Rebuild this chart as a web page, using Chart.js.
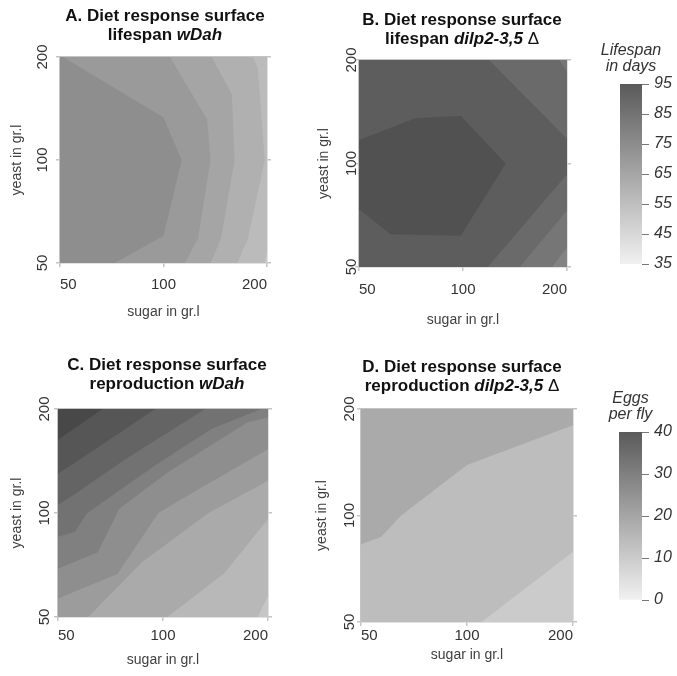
<!DOCTYPE html>
<html>
<head>
<meta charset="utf-8">
<title>Diet response surfaces</title>
<script src="https://cdn.jsdelivr.net/npm/chart.js@4.4.0/dist/chart.umd.min.js"></script>
<style>
  body { margin: 0; background: #fff; }
  #fig { position: relative; width: 677px; height: 676px; font-family: "Liberation Sans", Arial, sans-serif; }
  canvas { position: absolute; }
  .title { position: absolute; width: 300px; text-align: center; font-weight: bold; font-size: 17px;
           line-height: 19px; color: #111; white-space: nowrap; z-index: 2; }
  .title .delta { font-weight: normal; }
</style>
</head>
<body>
<div id="fig">
  <div class="title" style="left:15px; top:6px;">A. Diet response surface<br>lifespan <i>wDah</i></div>
  <div class="title" style="left:312px; top:10px;">B. Diet response surface<br>lifespan <i>dilp2-3,5</i> <span class="delta">&Delta;</span></div>
  <div class="title" style="left:17px; top:355px;">C. Diet response surface<br>reproduction <i>wDah</i></div>
  <div class="title" style="left:312px; top:357px;">D. Diet response surface<br>reproduction <i>dilp2-3,5</i> <span class="delta">&Delta;</span></div>

  <canvas id="lifeWDah" style="left:0; top:0;" width="300" height="340"></canvas>
  <canvas id="lifeDilp" style="left:300px; top:0;" width="290" height="340"></canvas>
  <canvas id="lifeBar" style="left:590px; top:30px;" width="87" height="250"></canvas>
  <canvas id="eggsWDah" style="left:0; top:340px;" width="300" height="336"></canvas>
  <canvas id="eggsDilp" style="left:300px; top:340px;" width="290" height="336"></canvas>
  <canvas id="eggsBar" style="left:590px; top:380px;" width="87" height="240"></canvas>
</div>
<script>
// diet grid (g/l), both axes on a log scale
const sugarTicks = [50, 100, 200];
const yeastTicks = [50, 100, 200];

// each surface is a stack of "value >= level" regions, [sugar, yeast] vertices,
// lowest level first (the first one covers the whole diet range)
const lifeWDahLevels = [45, 50, 55, 60, 65, 70];
const lifeWDahRegions = [
  [[50, 50], [200, 50], [200, 200], [50, 200]],
  [[50, 50], [197, 50], [200, 54.5], [200, 200], [50, 200]],
  [[50, 50], [164, 50], [176, 59], [197, 100], [188, 186], [182, 200], [50, 200]],
  [[50, 50], [137, 50], [147, 59], [161, 100], [158, 156], [138, 200], [50, 200]],
  [[50, 50], [115.5, 50], [126, 59], [137, 100], [134, 131], [104.5, 200], [50, 200]],
  [[50, 50], [72, 50], [100, 60], [113, 100], [100, 133], [51, 200], [50, 200]]
];

const lifeDilpLevels = [75, 80, 85, 90, 95];
const lifeDilpRegions = [
  [[50, 50], [200, 50], [200, 200], [50, 200]],
  [[50, 50], [181, 50], [200, 57], [200, 200], [50, 200]],
  [[50, 50], [146, 50], [200, 73], [200, 185], [190, 200], [50, 200]],
  [[50, 50], [118, 50], [200, 93], [200, 118], [119, 200], [50, 200]],
  [[50, 73.6], [61.7, 62.3], [98.5, 61.6], [133, 100], [98.5, 137.5], [72.8, 135.3], [50, 117]]
];

const eggsWDahLevels = [0, 5, 10, 15, 20, 25, 30, 35, 40, 45];
const eggsWDahRegions = [
  [[50, 50], [200, 50], [200, 200], [50, 200]],
  [[50, 50], [187, 50], [200, 57.7], [200, 200], [50, 200]],
  [[50, 50], [103, 50], [150, 67], [200, 96], [200, 200], [50, 200]],
  [[50, 50], [61, 50], [87, 72], [135, 100], [200, 124], [200, 200], [50, 200]],
  [[50, 56.6], [74, 66.6], [97, 100], [126, 117], [200, 153], [200, 200], [50, 200]],
  [[50, 69], [65, 77], [75, 103], [103, 131], [175, 183], [200, 189], [200, 200], [50, 200]],
  [[50, 85.4], [56, 88.3], [60.4, 99.7], [94.6, 137], [137.5, 175], [191.5, 200], [50, 200]],
  [[50, 105.5], [57, 115], [78, 143], [132, 200], [50, 200]],
  [[50, 130], [62, 150], [95, 200], [50, 200]],
  [[50, 163], [67, 200], [50, 200]]
];

const eggsDilpLevels = [5, 10, 15];
const eggsDilpRegions = [
  [[50, 50], [200, 50], [200, 200], [50, 200]],
  [[50, 50], [110, 50], [200, 79], [200, 200], [50, 200]],
  [[50, 83], [57, 87], [65, 100], [100, 139], [200, 180], [200, 200], [50, 200]]
];

// colour bar ranges and ticks
const lifeRange = [35, 95];
const lifeBarTicks = [35, 45, 55, 65, 75, 85, 95];
const lifeHeading = ['Lifespan', 'in days'];
const eggsRange = [0, 40];
const eggsBarTicks = [0, 10, 20, 30, 40];
const eggsHeading = ['Eggs', 'per fly'];

// grey shades of the filled bands, same order as the regions
const lifeWDahShades = ['#c6c6c6', '#bbbbbb', '#b0b0b0', '#a5a5a5', '#9a9a9a', '#8e8e8e'];
const lifeDilpShades = ['#838383', '#767676', '#6a6a6a', '#5d5d5d', '#515151'];
const eggsWDahShades = ['#c6c6c6', '#b8b8b8', '#aaaaaa', '#9c9c9c', '#8e8e8e', '#808080', '#727272', '#646464', '#565656', '#484848'];
const eggsDilpShades = ['#cbcbcb', '#bdbdbd', '#aaaaaa'];

Chart.defaults.font.family = '"Liberation Sans", Arial, sans-serif';
Chart.defaults.animation = false;
Chart.defaults.events = [];
Chart.defaults.plugins.legend.display = false;
Chart.defaults.plugins.tooltip.enabled = false;

const frameGrey = '#c4c4c4';
const fixTicks = values => scale => { scale.ticks = values.map(v => ({ value: v })); };

function drawSurface(id, regions, levels, shades, lay) {
  const datasets = regions.map((poly, i) => ({
    label: 'z >= ' + levels[i],
    data: poly.map(p => ({ x: p[0], y: p[1] })),
    xAxisID: 'x',
    yAxisID: 'y',
    showLine: true,
    fill: 'shape',
    backgroundColor: shades[i],
    borderWidth: 0,
    pointRadius: 0,
    order: regions.length - i   // higher bands are painted over lower ones
  }));
  const tickGrid = { drawOnChartArea: false, color: frameGrey, lineWidth: 1.5, tickLength: 4 };
  const edge = { color: frameGrey, width: 1.5 };
  const tickFont = { size: 15 };
  const titleFont = { size: 14 };

  new Chart(document.getElementById(id), {
    type: 'scatter',
    data: { datasets },
    options: {
      responsive: false,
      layout: { padding: { left: 0, top: lay.top, right: lay.right, bottom: 0 } },
      scales: {
        x: {
          type: 'logarithmic', position: 'bottom', min: 50, max: 200,
          afterBuildTicks: fixTicks(sugarTicks),
          afterFit: s => { s.height = lay.xHeight; },
          ticks: { align: 'inner', padding: lay.xTickPad, color: '#333', font: tickFont, callback: v => String(v) },
          grid: tickGrid, border: edge,
          title: { display: true, text: 'sugar in gr.l', color: '#404040', font: titleFont,
                   padding: { top: 0, bottom: lay.xTitlePad } }
        },
        y: {
          type: 'logarithmic', position: 'left', min: 50, max: 200,
          afterBuildTicks: fixTicks(yeastTicks),
          afterFit: s => { s.width = lay.yWidth; },
          ticks: { minRotation: 90, maxRotation: 90, crossAlign: 'center', padding: lay.yTickPad,
                   color: '#333', font: tickFont, callback: v => String(v) },
          grid: tickGrid, border: edge,
          title: { display: true, text: 'yeast in gr.l', color: '#404040', font: titleFont,
                   padding: { top: lay.yTitlePad, bottom: 0 } }
        },
        yRight: {
          axis: 'y', type: 'logarithmic', position: 'right', min: 50, max: 200,
          afterBuildTicks: fixTicks(yeastTicks),
          afterFit: s => { s.width = 4; },
          ticks: { display: false },
          grid: tickGrid, border: edge
        },
        xTop: {
          axis: 'x', type: 'logarithmic', position: 'top', min: 50, max: 200,
          afterFit: s => { s.height = 0; },
          ticks: { display: false },
          grid: { display: false }, border: edge
        }
      }
    }
  });
}

function drawColourBar(id, range, ticks, heading, lay) {
  const light = '#f1f1f1', dark = '#5a5a5a';
  new Chart(document.getElementById(id), {
    type: 'bar',
    data: {
      labels: [''],
      datasets: [{
        data: [range],
        borderWidth: 0,
        barPercentage: 1,
        categoryPercentage: 1,
        backgroundColor: c => {
          const s = c.chart.scales.y;
          if (!c.chart.chartArea || !s) return dark;
          const y0 = s.getPixelForValue(range[0]);
          const y1 = s.getPixelForValue(range[1]);
          if (!isFinite(y0) || !isFinite(y1)) return dark;
          const g = c.chart.ctx.createLinearGradient(0, y0, 0, y1);
          g.addColorStop(0, light);
          g.addColorStop(1, dark);
          return g;
        }
      }]
    },
    options: {
      responsive: false,
      layout: { padding: { left: lay.left, top: lay.top, right: 0, bottom: lay.bottom } },
      scales: {
        x: { display: false },
        y: {
          position: 'right', min: range[0], max: range[1],
          afterBuildTicks: fixTicks(ticks),
          afterFit: s => { s.width = 35; },
          ticks: { color: '#333', padding: 5, font: { size: 16, style: 'italic' } },
          grid: { drawOnChartArea: false, tickLength: 7, color: '#777', lineWidth: 1 },
          border: { display: false }
        }
      }
    },
    plugins: [{
      id: 'barHeading',
      afterDraw(chart) {
        const { ctx, chartArea } = chart;
        const cx = (chartArea.left + chartArea.right) / 2;
        ctx.save();
        ctx.font = 'italic 16px "Liberation Sans", Arial, sans-serif';
        ctx.fillStyle = '#333';
        ctx.textAlign = 'center';
        ctx.textBaseline = 'alphabetic';
        heading.forEach((line, i) => {
          ctx.fillText(line, cx, chartArea.top - 13 - (heading.length - 1 - i) * 16);
        });
        ctx.restore();
      }
    }]
  });
}

drawSurface('lifeWDah', lifeWDahRegions, lifeWDahLevels, lifeWDahShades,
  { top: 57, right: 29, yWidth: 60, xHeight: 77, yTickPad: 1, xTickPad: 8.5, yTitlePad: 8.6, xTitlePad: 19.6 });
drawSurface('lifeDilp', lifeDilpRegions, lifeDilpLevels, lifeDilpShades,
  { top: 60, right: 19, yWidth: 59, xHeight: 73, yTickPad: -9.5, xTickPad: 10, yTitlePad: 15.6, xTitlePad: 11.6 });
drawSurface('eggsWDah', eggsWDahRegions, eggsWDahLevels, eggsWDahShades,
  { top: 69, right: 28, yWidth: 58, xHeight: 59, yTickPad: -3.5, xTickPad: 6, yTitlePad: 9, xTitlePad: 7.6 });
drawSurface('eggsDilp', eggsDilpRegions, eggsDilpLevels, eggsDilpShades,
  { top: 69, right: 13, yWidth: 61, xHeight: 54, yTickPad: -5.5, xTickPad: 1, yTitlePad: 14, xTitlePad: 12.6 });

drawColourBar('lifeBar', lifeRange, lifeBarTicks, lifeHeading, { left: 30, top: 54, bottom: 16 });
drawColourBar('eggsBar', eggsRange, eggsBarTicks, eggsHeading, { left: 29, top: 52, bottom: 20 });
</script>
</body>
</html>
